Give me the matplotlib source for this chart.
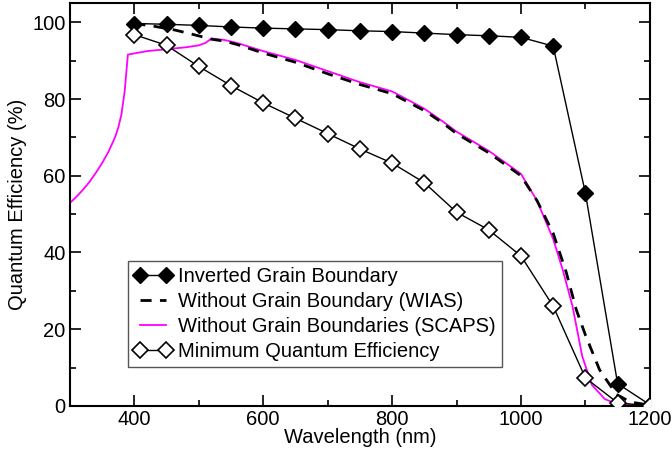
import matplotlib.pyplot as plt
from matplotlib.ticker import MultipleLocator

plt.rcParams['font.family'] = ['Liberation Sans', 'DejaVu Sans']

wl_pts = [400, 450, 500, 550, 600, 650, 700, 750, 800, 850, 900, 950, 1000, 1050, 1100, 1150, 1200]
qe_inverted = [99.7, 99.5, 99.2, 98.8, 98.5, 98.3, 98.1, 97.8, 97.6, 97.2, 96.8, 96.5, 96.1, 93.8, 55.5, 5.8, 0.3]
qe_minimum = [96.8, 94.0, 88.5, 83.5, 79.0, 75.0, 71.0, 67.0, 63.3, 58.2, 50.5, 45.9, 39.1, 26.0, 7.3, 0.8, 0.0]

wl_scaps = [300, 310, 320, 330, 340, 350, 360, 370, 375, 380, 385, 390, 420, 450, 480, 500, 510, 520,
            540, 560, 600, 650, 700, 750, 800, 850, 880, 900, 950, 1000, 1025, 1050, 1065, 1080, 1095,
            1110, 1130, 1150, 1200]
qe_scaps = [52.9, 54.5, 56.3, 58.3, 60.7, 63.3, 66.3, 70.0, 72.5, 76.0, 82.0, 91.6, 92.5, 93.0, 93.5, 94.0,
            94.6, 95.8, 95.4, 94.6, 92.5, 90.2, 87.3, 84.4, 82.0, 77.5, 74.0, 71.5, 66.5, 60.5, 53.5, 43.5,
            35.4, 26.0, 13.0, 5.5, 1.8, 0.4, 0.0]

wl_wias = [400, 430, 463, 490, 520, 540, 560, 600, 650, 700, 750, 800, 850, 880, 900, 950, 1000,
           1025, 1050, 1070, 1086, 1100, 1122, 1148, 1170, 1200]
qe_wias = [99.7, 99.0, 98.0, 96.9, 95.6, 95.1, 94.2, 92.0, 89.6, 86.6, 83.8, 81.4, 77.0, 73.6, 71.0, 66.0, 60.0,
           53.5, 45.0, 35.0, 25.0, 18.5, 9.4, 3.0, 1.0, 0.2]

fig = plt.figure(figsize=(6.72, 4.54), dpi=100)
ax = fig.add_axes([0.104, 0.106, 0.863, 0.887])

ax.plot(wl_pts, qe_inverted, color='black', lw=1.0, marker='D', ms=8,
        mfc='black', mec='black', label='Inverted Grain Boundary', zorder=4)
ax.plot(wl_wias, qe_wias, color='black', lw=2.0, ls=(0, (4, 3)),
        label='Without Grain Boundary (WIAS)', zorder=3)
ax.plot(wl_scaps, qe_scaps, color='#ff00ff', lw=1.3,
        label='Without Grain Boundaries (SCAPS)', zorder=2)
ax.plot(wl_pts, qe_minimum, color='black', lw=1.0, marker='D', ms=8,
        mfc='white', mec='black', mew=1.2, label='Minimum Quantum Efficiency', zorder=4)

ax.set_xlim(300, 1200)
ax.set_ylim(0, 105)
ax.xaxis.set_major_locator(MultipleLocator(200))
ax.xaxis.set_minor_locator(MultipleLocator(100))
ax.yaxis.set_major_locator(MultipleLocator(20))
ax.yaxis.set_minor_locator(MultipleLocator(10))
ax.tick_params(which='both', direction='in', top=True, right=True, labelsize=14.5, width=1.2)
ax.tick_params(which='major', length=8, pad=3)
ax.tick_params(which='minor', length=4)
for s in ax.spines.values():
    s.set_linewidth(1.5)

ax.set_xlabel('Wavelength (nm)', fontsize=14.5, labelpad=-1)
ax.set_ylabel('Quantum Efficiency (%)', fontsize=14.5, labelpad=4)

leg = ax.legend(loc='lower left', bbox_to_anchor=(0.1, 0.097), fontsize=14.5, numpoints=2,
                handlelength=1.9, handletextpad=0.3, borderpad=0.3, labelspacing=0.3,
                borderaxespad=0, fancybox=False, framealpha=1, edgecolor='#555555')
leg.get_frame().set_linewidth(1.0)

fig.savefig('out.png', dpi=100)
